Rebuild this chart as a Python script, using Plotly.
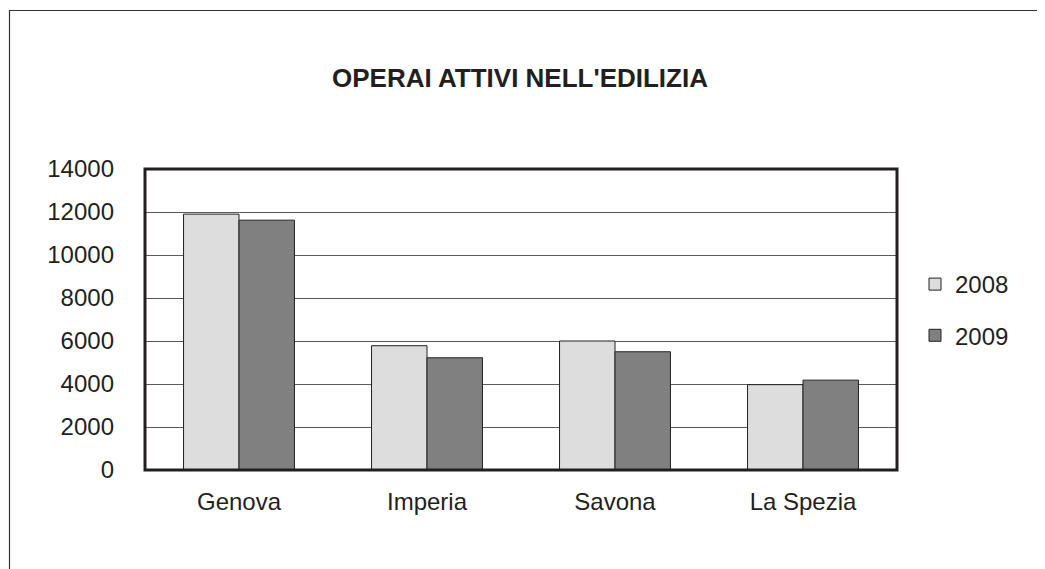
import plotly.graph_objects as go

# Operai attivi nell'edilizia, per provincia
province = ['Genova', 'Imperia', 'Savona', 'La Spezia']
valori_2008 = [11900, 5780, 6000, 3970]
valori_2009 = [11620, 5220, 5500, 4180]
anni = ['2008', '2009']
y_ticks = [0, 2000, 4000, 6000, 8000, 10000, 12000, 14000]
y_labels = [str(v) for v in y_ticks]

colori = ['#dddddd', '#808080']
testo = '#231f20'

fig = go.Figure()
for anno, vals, col in zip(anni, [valori_2008, valori_2009], colori):
    fig.add_trace(go.Bar(
        x=province, y=vals, name=anno, legendgroup=anno,
        marker=dict(color=col, line=dict(color='#222222', width=1)),
    ))

# the page has an 8px body margin, so work in figure pixels (page - 8)
OFF = 8
L, R, T, B = 145 - OFF, 897 - OFF, 169 - OFF, 470 - OFF
W, H = R - L, B - T

def px(x):
    return (x - OFF - L) / W

def py(y):
    return (B - (y - OFF)) / H

fig.update_layout(
    width=1045, height=569,
    margin=dict(l=L, r=1045 - R, t=T, b=569 - B),
    paper_bgcolor='white', plot_bgcolor='white',
    font=dict(family='Liberation Sans, Arial, sans-serif', size=24, color=testo),
    title=dict(text="<b>OPERAI ATTIVI NELL'EDILIZIA</b>", x=(520 - OFF) / 1045, xanchor='center',
               y=1 - (78 - OFF) / 569, yanchor='middle', font=dict(size=26, color=testo)),
    barmode='group', bargap=0.41, bargroupgap=0,
    legend=dict(x=px(915), y=py(262), xanchor='left', yanchor='top',
                font=dict(size=24), tracegroupgap=17, itemwidth=30,
                bgcolor='rgba(0,0,0,0)'),
    showlegend=True,
    xaxis=dict(showgrid=False, ticks='', ticklabelstandoff=15,
               showline=False, zeroline=False),
    yaxis=dict(range=[0, 14000], tickvals=y_ticks, ticktext=y_labels, showgrid=True,
               gridcolor='#5a5a5a', gridwidth=1.3, zeroline=False,
               ticks='', ticklabelstandoff=30, showline=False),
    shapes=[
        # plot area border
        dict(type='rect', xref='paper', yref='paper', x0=0, x1=1, y0=0, y1=1,
             line=dict(color='#231f20', width=3), layer='above'),
        # outer frame (left and top)
        dict(type='line', xref='paper', yref='paper', x0=px(9.5), x1=px(9.5),
             y0=py(10.5), y1=py(590), line=dict(color='#333333', width=1.2)),
        dict(type='line', xref='paper', yref='paper', x0=px(9), x1=px(1070),
             y0=py(10.5), y1=py(10.5), line=dict(color='#333333', width=1.2)),
    ],
)

fig.write_html('out.html')
